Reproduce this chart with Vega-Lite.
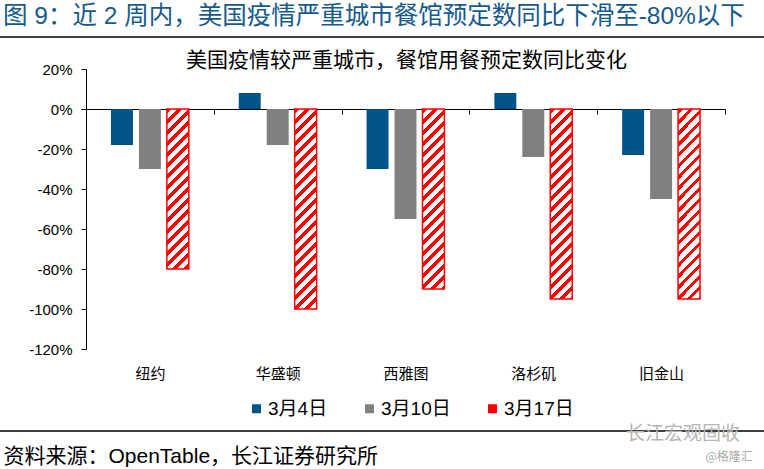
{
  "$schema": "https://vega.github.io/schema/vega-lite/v6.json",
  "width": 764,
  "height": 432,
  "autosize": {"type": "none"},
  "padding": {"top": 37, "left": 0, "right": 0, "bottom": 0},
  "background": "white",
  "config": {
    "view": {"stroke": null},
    "font": "Liberation Sans, Noto Sans CJK SC"
  },
  "title": {
    "text": "图 9：近 2 周内，美国疫情严重城市餐馆预定数同比下滑至-80%以下",
    "anchor": "start",
    "frame": "group",
    "dx": 3,
    "offset": -12,
    "baseline": "alphabetic",
    "fontSize": 24.5,
    "fontWeight": "normal",
    "font": "Liberation Sans, Noto Sans CJK SC",
    "color": "#165A8C"
  },
  "data": {
    "values": [
      {"city": "纽约", "series": "3月4日", "value": -18},
      {"city": "纽约", "series": "3月10日", "value": -30},
      {"city": "纽约", "series": "3月17日", "value": -80},
      {"city": "华盛顿", "series": "3月4日", "value": 8},
      {"city": "华盛顿", "series": "3月10日", "value": -18},
      {"city": "华盛顿", "series": "3月17日", "value": -100},
      {"city": "西雅图", "series": "3月4日", "value": -30},
      {"city": "西雅图", "series": "3月10日", "value": -55},
      {"city": "西雅图", "series": "3月17日", "value": -90},
      {"city": "洛杉矶", "series": "3月4日", "value": 8},
      {"city": "洛杉矶", "series": "3月10日", "value": -24},
      {"city": "洛杉矶", "series": "3月17日", "value": -95},
      {"city": "旧金山", "series": "3月4日", "value": -23},
      {"city": "旧金山", "series": "3月10日", "value": -45},
      {"city": "旧金山", "series": "3月17日", "value": -95}
    ]
  },
  "layer": [
    {
      "transform": [{"filter": "datum.series !== '3月17日'"}],
      "mark": {"type": "bar"},
      "encoding": {
        "x": {
          "field": "city", "type": "nominal",
          "scale": {"type": "band", "domain": ["纽约", "华盛顿", "西雅图", "洛杉矶", "旧金山"], "range": [86, 725], "paddingInner": 0, "paddingOuter": 0},
          "axis": {
            "orient": "bottom", "offset": -360,
            "domain": true, "domainColor": "black", "domainWidth": 1,
            "ticks": true, "tickColor": "black", "tickSize": 5, "tickBand": "extent",
            "labelAngle": 0, "labelFontSize": 15, "labelColor": "black", "labelPadding": 252,
            "labelFont": "Liberation Sans, Noto Sans CJK SC",
            "grid": false,
            "title": "资料来源：OpenTable，长江证券研究所",
            "titleX": 3, "titleY": 347, "titleAlign": "left", "titleBaseline": "middle",
            "titleFontSize": 21, "titleFontWeight": "normal", "titleColor": "black",
            "titleFont": "Liberation Sans, Noto Sans CJK SC"
          }
        },
        "xOffset": {
          "field": "series", "type": "nominal",
          "scale": {"domain": ["3月4日", "3月10日", "3月17日"], "paddingInner": 0.2143, "paddingOuter": 0.893}
        },
        "y": {
          "field": "value", "type": "quantitative", "stack": null,
          "scale": {"domain": [-120, 20], "range": [312, 32], "nice": false},
          "axis": {
            "orient": "left", "offset": -86,
            "values": [20, 0, -20, -40, -60, -80, -100, -120],
            "labelExpr": "datum.value + '%'",
            "domainColor": "black", "domainWidth": 1,
            "tickColor": "black", "tickSize": 5,
            "labelPadding": 9, "labelFontSize": 15, "labelColor": "black",
            "labelFont": "Liberation Sans, Noto Sans CJK SC",
            "grid": false,
            "title": "美国疫情较严重城市，餐馆用餐预定数同比变化",
            "titleAngle": 0, "titleX": 320, "titleY": 23, "titleAlign": "center", "titleBaseline": "middle",
            "titleFontSize": 21, "titleFontWeight": "normal", "titleColor": "black",
            "titleFont": "Liberation Sans, Noto Sans CJK SC"
          }
        },
        "color": {
          "field": "series", "type": "nominal",
          "scale": {"domain": ["3月4日", "3月10日", "3月17日"], "range": ["#005487", "#808080", "#FF0000"]},
          "legend": {
            "orient": "none", "legendX": 247, "legendY": 362,
            "direction": "horizontal", "title": null,
            "symbolType": "square", "symbolSize": 81,
            "labelFontSize": 19, "labelColor": "black", "labelOffset": 2,
            "labelFont": "Liberation Sans, Noto Sans CJK SC",
            "columnPadding": 32, "padding": 0
          }
        }
      }
    },
    {
      "transform": [{"filter": "datum.series === '3月17日' && datum.city === '纽约'"}],
      "mark": {
        "type": "bar", "stroke": "#FF0000", "strokeWidth": 1.5,
        "fill": {"gradient": "linear", "x1": 0, "y1": 0, "x2": 0.1535, "y2": 1.1164, "stops": [
          {"offset":0,"color":"red"},{"offset":0.0272,"color":"red"},{"offset":0.0272,"color":"white"},{"offset":0.0604,"color":"white"},
          {"offset":0.0604,"color":"red"},{"offset":0.0876,"color":"red"},{"offset":0.0876,"color":"white"},{"offset":0.1209,"color":"white"},
          {"offset":0.1209,"color":"red"},{"offset":0.1481,"color":"red"},{"offset":0.1481,"color":"white"},{"offset":0.1813,"color":"white"},
          {"offset":0.1813,"color":"red"},{"offset":0.2085,"color":"red"},{"offset":0.2085,"color":"white"},{"offset":0.2418,"color":"white"},
          {"offset":0.2418,"color":"red"},{"offset":0.2690,"color":"red"},{"offset":0.2690,"color":"white"},{"offset":0.3022,"color":"white"},
          {"offset":0.3022,"color":"red"},{"offset":0.3294,"color":"red"},{"offset":0.3294,"color":"white"},{"offset":0.3626,"color":"white"},
          {"offset":0.3626,"color":"red"},{"offset":0.3898,"color":"red"},{"offset":0.3898,"color":"white"},{"offset":0.4231,"color":"white"},
          {"offset":0.4231,"color":"red"},{"offset":0.4503,"color":"red"},{"offset":0.4503,"color":"white"},{"offset":0.4835,"color":"white"},
          {"offset":0.4835,"color":"red"},{"offset":0.5107,"color":"red"},{"offset":0.5107,"color":"white"},{"offset":0.5440,"color":"white"},
          {"offset":0.5440,"color":"red"},{"offset":0.5712,"color":"red"},{"offset":0.5712,"color":"white"},{"offset":0.6044,"color":"white"},
          {"offset":0.6044,"color":"red"},{"offset":0.6316,"color":"red"},{"offset":0.6316,"color":"white"},{"offset":0.6648,"color":"white"},
          {"offset":0.6648,"color":"red"},{"offset":0.6920,"color":"red"},{"offset":0.6920,"color":"white"},{"offset":0.7253,"color":"white"},
          {"offset":0.7253,"color":"red"},{"offset":0.7525,"color":"red"},{"offset":0.7525,"color":"white"},{"offset":0.7857,"color":"white"},
          {"offset":0.7857,"color":"red"},{"offset":0.8129,"color":"red"},{"offset":0.8129,"color":"white"},{"offset":0.8462,"color":"white"},
          {"offset":0.8462,"color":"red"},{"offset":0.8734,"color":"red"},{"offset":0.8734,"color":"white"},{"offset":0.9066,"color":"white"},
          {"offset":0.9066,"color":"red"},{"offset":0.9338,"color":"red"},{"offset":0.9338,"color":"white"},{"offset":0.9670,"color":"white"},
          {"offset":0.9670,"color":"red"},{"offset":0.9942,"color":"red"},{"offset":0.9942,"color":"white"},{"offset":1,"color":"white"}
        ]}
      },
      "encoding": {
        "x": {"field": "city", "type": "nominal", "scale": {"type": "band", "domain": ["纽约", "华盛顿", "西雅图", "洛杉矶", "旧金山"], "range": [86, 725], "paddingInner": 0, "paddingOuter": 0}},
        "xOffset": {"field": "series", "type": "nominal", "scale": {"domain": ["3月4日", "3月10日", "3月17日"], "paddingInner": 0.2143, "paddingOuter": 0.893}},
        "y": {"field": "value", "type": "quantitative", "stack": null, "scale": {"domain": [-120, 20], "range": [312, 32], "nice": false}}
      }
    },
    {
      "transform": [{"filter": "datum.series === '3月17日' && datum.city === '华盛顿'"}],
      "mark": {
        "type": "bar", "stroke": "#FF0000", "strokeWidth": 1.5,
        "fill": {"gradient": "linear", "x1": 0, "y1": 0, "x2": 0.1206, "y2": 1.0967, "stops": [
          {"offset":0,"color":"red"},{"offset":0.0223,"color":"red"},{"offset":0.0223,"color":"white"},{"offset":0.0495,"color":"white"},
          {"offset":0.0495,"color":"red"},{"offset":0.0718,"color":"red"},{"offset":0.0718,"color":"white"},{"offset":0.0991,"color":"white"},
          {"offset":0.0991,"color":"red"},{"offset":0.1214,"color":"red"},{"offset":0.1214,"color":"white"},{"offset":0.1486,"color":"white"},
          {"offset":0.1486,"color":"red"},{"offset":0.1709,"color":"red"},{"offset":0.1709,"color":"white"},{"offset":0.1982,"color":"white"},
          {"offset":0.1982,"color":"red"},{"offset":0.2205,"color":"red"},{"offset":0.2205,"color":"white"},{"offset":0.2477,"color":"white"},
          {"offset":0.2477,"color":"red"},{"offset":0.2700,"color":"red"},{"offset":0.2700,"color":"white"},{"offset":0.2973,"color":"white"},
          {"offset":0.2973,"color":"red"},{"offset":0.3196,"color":"red"},{"offset":0.3196,"color":"white"},{"offset":0.3468,"color":"white"},
          {"offset":0.3468,"color":"red"},{"offset":0.3691,"color":"red"},{"offset":0.3691,"color":"white"},{"offset":0.3964,"color":"white"},
          {"offset":0.3964,"color":"red"},{"offset":0.4187,"color":"red"},{"offset":0.4187,"color":"white"},{"offset":0.4459,"color":"white"},
          {"offset":0.4459,"color":"red"},{"offset":0.4682,"color":"red"},{"offset":0.4682,"color":"white"},{"offset":0.4955,"color":"white"},
          {"offset":0.4955,"color":"red"},{"offset":0.5178,"color":"red"},{"offset":0.5178,"color":"white"},{"offset":0.5450,"color":"white"},
          {"offset":0.5450,"color":"red"},{"offset":0.5673,"color":"red"},{"offset":0.5673,"color":"white"},{"offset":0.5946,"color":"white"},
          {"offset":0.5946,"color":"red"},{"offset":0.6169,"color":"red"},{"offset":0.6169,"color":"white"},{"offset":0.6441,"color":"white"},
          {"offset":0.6441,"color":"red"},{"offset":0.6664,"color":"red"},{"offset":0.6664,"color":"white"},{"offset":0.6937,"color":"white"},
          {"offset":0.6937,"color":"red"},{"offset":0.7160,"color":"red"},{"offset":0.7160,"color":"white"},{"offset":0.7432,"color":"white"},
          {"offset":0.7432,"color":"red"},{"offset":0.7655,"color":"red"},{"offset":0.7655,"color":"white"},{"offset":0.7928,"color":"white"},
          {"offset":0.7928,"color":"red"},{"offset":0.8151,"color":"red"},{"offset":0.8151,"color":"white"},{"offset":0.8423,"color":"white"},
          {"offset":0.8423,"color":"red"},{"offset":0.8646,"color":"red"},{"offset":0.8646,"color":"white"},{"offset":0.8919,"color":"white"},
          {"offset":0.8919,"color":"red"},{"offset":0.9142,"color":"red"},{"offset":0.9142,"color":"white"},{"offset":0.9414,"color":"white"},
          {"offset":0.9414,"color":"red"},{"offset":0.9637,"color":"red"},{"offset":0.9637,"color":"white"},{"offset":0.9910,"color":"white"},
          {"offset":0.9910,"color":"red"},{"offset":1,"color":"red"}
        ]}
      },
      "encoding": {
        "x": {"field": "city", "type": "nominal", "scale": {"type": "band", "domain": ["纽约", "华盛顿", "西雅图", "洛杉矶", "旧金山"], "range": [86, 725], "paddingInner": 0, "paddingOuter": 0}},
        "xOffset": {"field": "series", "type": "nominal", "scale": {"domain": ["3月4日", "3月10日", "3月17日"], "paddingInner": 0.2143, "paddingOuter": 0.893}},
        "y": {"field": "value", "type": "quantitative", "stack": null, "scale": {"domain": [-120, 20], "range": [312, 32], "nice": false}}
      }
    },
    {
      "transform": [{"filter": "datum.series === '3月17日' && datum.city === '西雅图'"}],
      "mark": {
        "type": "bar", "stroke": "#FF0000", "strokeWidth": 1.5,
        "fill": {"gradient": "linear", "x1": 0, "y1": 0, "x2": 0.1351, "y2": 1.1057, "stops": [
          {"offset":0,"color":"red"},{"offset":0.0245,"color":"red"},{"offset":0.0245,"color":"white"},{"offset":0.0545,"color":"white"},
          {"offset":0.0545,"color":"red"},{"offset":0.0790,"color":"red"},{"offset":0.0790,"color":"white"},{"offset":0.1089,"color":"white"},
          {"offset":0.1089,"color":"red"},{"offset":0.1334,"color":"red"},{"offset":0.1334,"color":"white"},{"offset":0.1634,"color":"white"},
          {"offset":0.1634,"color":"red"},{"offset":0.1879,"color":"red"},{"offset":0.1879,"color":"white"},{"offset":0.2178,"color":"white"},
          {"offset":0.2178,"color":"red"},{"offset":0.2423,"color":"red"},{"offset":0.2423,"color":"white"},{"offset":0.2723,"color":"white"},
          {"offset":0.2723,"color":"red"},{"offset":0.2968,"color":"red"},{"offset":0.2968,"color":"white"},{"offset":0.3267,"color":"white"},
          {"offset":0.3267,"color":"red"},{"offset":0.3512,"color":"red"},{"offset":0.3512,"color":"white"},{"offset":0.3812,"color":"white"},
          {"offset":0.3812,"color":"red"},{"offset":0.4057,"color":"red"},{"offset":0.4057,"color":"white"},{"offset":0.4356,"color":"white"},
          {"offset":0.4356,"color":"red"},{"offset":0.4601,"color":"red"},{"offset":0.4601,"color":"white"},{"offset":0.4901,"color":"white"},
          {"offset":0.4901,"color":"red"},{"offset":0.5146,"color":"red"},{"offset":0.5146,"color":"white"},{"offset":0.5446,"color":"white"},
          {"offset":0.5446,"color":"red"},{"offset":0.5691,"color":"red"},{"offset":0.5691,"color":"white"},{"offset":0.5990,"color":"white"},
          {"offset":0.5990,"color":"red"},{"offset":0.6235,"color":"red"},{"offset":0.6235,"color":"white"},{"offset":0.6535,"color":"white"},
          {"offset":0.6535,"color":"red"},{"offset":0.6780,"color":"red"},{"offset":0.6780,"color":"white"},{"offset":0.7079,"color":"white"},
          {"offset":0.7079,"color":"red"},{"offset":0.7324,"color":"red"},{"offset":0.7324,"color":"white"},{"offset":0.7624,"color":"white"},
          {"offset":0.7624,"color":"red"},{"offset":0.7869,"color":"red"},{"offset":0.7869,"color":"white"},{"offset":0.8168,"color":"white"},
          {"offset":0.8168,"color":"red"},{"offset":0.8413,"color":"red"},{"offset":0.8413,"color":"white"},{"offset":0.8713,"color":"white"},
          {"offset":0.8713,"color":"red"},{"offset":0.8958,"color":"red"},{"offset":0.8958,"color":"white"},{"offset":0.9257,"color":"white"},
          {"offset":0.9257,"color":"red"},{"offset":0.9502,"color":"red"},{"offset":0.9502,"color":"white"},{"offset":0.9802,"color":"white"},
          {"offset":0.9802,"color":"red"},{"offset":1,"color":"red"}
        ]}
      },
      "encoding": {
        "x": {"field": "city", "type": "nominal", "scale": {"type": "band", "domain": ["纽约", "华盛顿", "西雅图", "洛杉矶", "旧金山"], "range": [86, 725], "paddingInner": 0, "paddingOuter": 0}},
        "xOffset": {"field": "series", "type": "nominal", "scale": {"domain": ["3月4日", "3月10日", "3月17日"], "paddingInner": 0.2143, "paddingOuter": 0.893}},
        "y": {"field": "value", "type": "quantitative", "stack": null, "scale": {"domain": [-120, 20], "range": [312, 32], "nice": false}}
      }
    },
    {
      "transform": [{"filter": "datum.series === '3月17日' && (datum.city === '洛杉矶' || datum.city === '旧金山')"}],
      "mark": {
        "type": "bar", "stroke": "#FF0000", "strokeWidth": 1.5,
        "fill": {"gradient": "linear", "x1": 0, "y1": 0, "x2": 0.1275, "y2": 1.1010, "stops": [
          {"offset":0,"color":"red"},{"offset":0.0233,"color":"red"},{"offset":0.0233,"color":"white"},{"offset":0.0519,"color":"white"},
          {"offset":0.0519,"color":"red"},{"offset":0.0752,"color":"red"},{"offset":0.0752,"color":"white"},{"offset":0.1038,"color":"white"},
          {"offset":0.1038,"color":"red"},{"offset":0.1271,"color":"red"},{"offset":0.1271,"color":"white"},{"offset":0.1557,"color":"white"},
          {"offset":0.1557,"color":"red"},{"offset":0.1790,"color":"red"},{"offset":0.1790,"color":"white"},{"offset":0.2075,"color":"white"},
          {"offset":0.2075,"color":"red"},{"offset":0.2308,"color":"red"},{"offset":0.2308,"color":"white"},{"offset":0.2594,"color":"white"},
          {"offset":0.2594,"color":"red"},{"offset":0.2827,"color":"red"},{"offset":0.2827,"color":"white"},{"offset":0.3113,"color":"white"},
          {"offset":0.3113,"color":"red"},{"offset":0.3346,"color":"red"},{"offset":0.3346,"color":"white"},{"offset":0.3632,"color":"white"},
          {"offset":0.3632,"color":"red"},{"offset":0.3865,"color":"red"},{"offset":0.3865,"color":"white"},{"offset":0.4151,"color":"white"},
          {"offset":0.4151,"color":"red"},{"offset":0.4384,"color":"red"},{"offset":0.4384,"color":"white"},{"offset":0.4670,"color":"white"},
          {"offset":0.4670,"color":"red"},{"offset":0.4903,"color":"red"},{"offset":0.4903,"color":"white"},{"offset":0.5189,"color":"white"},
          {"offset":0.5189,"color":"red"},{"offset":0.5422,"color":"red"},{"offset":0.5422,"color":"white"},{"offset":0.5708,"color":"white"},
          {"offset":0.5708,"color":"red"},{"offset":0.5941,"color":"red"},{"offset":0.5941,"color":"white"},{"offset":0.6226,"color":"white"},
          {"offset":0.6226,"color":"red"},{"offset":0.6459,"color":"red"},{"offset":0.6459,"color":"white"},{"offset":0.6745,"color":"white"},
          {"offset":0.6745,"color":"red"},{"offset":0.6978,"color":"red"},{"offset":0.6978,"color":"white"},{"offset":0.7264,"color":"white"},
          {"offset":0.7264,"color":"red"},{"offset":0.7497,"color":"red"},{"offset":0.7497,"color":"white"},{"offset":0.7783,"color":"white"},
          {"offset":0.7783,"color":"red"},{"offset":0.8016,"color":"red"},{"offset":0.8016,"color":"white"},{"offset":0.8302,"color":"white"},
          {"offset":0.8302,"color":"red"},{"offset":0.8535,"color":"red"},{"offset":0.8535,"color":"white"},{"offset":0.8821,"color":"white"},
          {"offset":0.8821,"color":"red"},{"offset":0.9054,"color":"red"},{"offset":0.9054,"color":"white"},{"offset":0.9340,"color":"white"},
          {"offset":0.9340,"color":"red"},{"offset":0.9573,"color":"red"},{"offset":0.9573,"color":"white"},{"offset":0.9858,"color":"white"},
          {"offset":0.9858,"color":"red"},{"offset":1,"color":"red"}
        ]}
      },
      "encoding": {
        "x": {"field": "city", "type": "nominal", "scale": {"type": "band", "domain": ["纽约", "华盛顿", "西雅图", "洛杉矶", "旧金山"], "range": [86, 725], "paddingInner": 0, "paddingOuter": 0}},
        "xOffset": {"field": "series", "type": "nominal", "scale": {"domain": ["3月4日", "3月10日", "3月17日"], "paddingInner": 0.2143, "paddingOuter": 0.893}},
        "y": {"field": "value", "type": "quantitative", "stack": null, "scale": {"domain": [-120, 20], "range": [312, 32], "nice": false}}
      }
    },
    {
      "data": {"values": [{"line": "header"}]},
      "mark": {"type": "rule", "color": "black", "strokeWidth": 1.5},
      "encoding": {"y": {"datum": 36, "type": "quantitative", "scale": {"domain": [-120, 20], "range": [312, 32], "nice": false}}}
    },
    {
      "data": {"values": [{"line": "footer"}]},
      "mark": {"type": "rule", "color": "black", "strokeWidth": 1.5},
      "encoding": {"y": {"datum": -161, "type": "quantitative", "scale": {"domain": [-120, 20], "range": [312, 32], "nice": false}}}
    },
    {
      "data": {"values": [{"label": "长江宏观固收"}]},
      "mark": {"type": "text", "fontSize": 19, "color": "#B5B5B5", "dx": 22, "align": "center", "baseline": "middle", "font": "Noto Sans CJK SC"},
      "encoding": {
        "text": {"field": "label"},
        "x": {"datum": "旧金山", "type": "nominal", "scale": {"type": "band", "domain": ["纽约", "华盛顿", "西雅图", "洛杉矶", "旧金山"], "range": [86, 725], "paddingInner": 0, "paddingOuter": 0}},
        "y": {"datum": -162.5, "type": "quantitative", "scale": {"domain": [-120, 20], "range": [312, 32], "nice": false}}
      }
    },
    {
      "data": {"values": [{"label": "@格隆汇"}]},
      "mark": {"type": "text", "fontSize": 12, "color": "#AAAAAA", "dx": 68, "align": "center", "baseline": "middle", "font": "Noto Sans CJK SC"},
      "encoding": {
        "text": {"field": "label"},
        "x": {"datum": "旧金山", "type": "nominal", "scale": {"type": "band", "domain": ["纽约", "华盛顿", "西雅图", "洛杉矶", "旧金山"], "range": [86, 725], "paddingInner": 0, "paddingOuter": 0}},
        "y": {"datum": -174, "type": "quantitative", "scale": {"domain": [-120, 20], "range": [312, 32], "nice": false}}
      }
    }
  ]
}
